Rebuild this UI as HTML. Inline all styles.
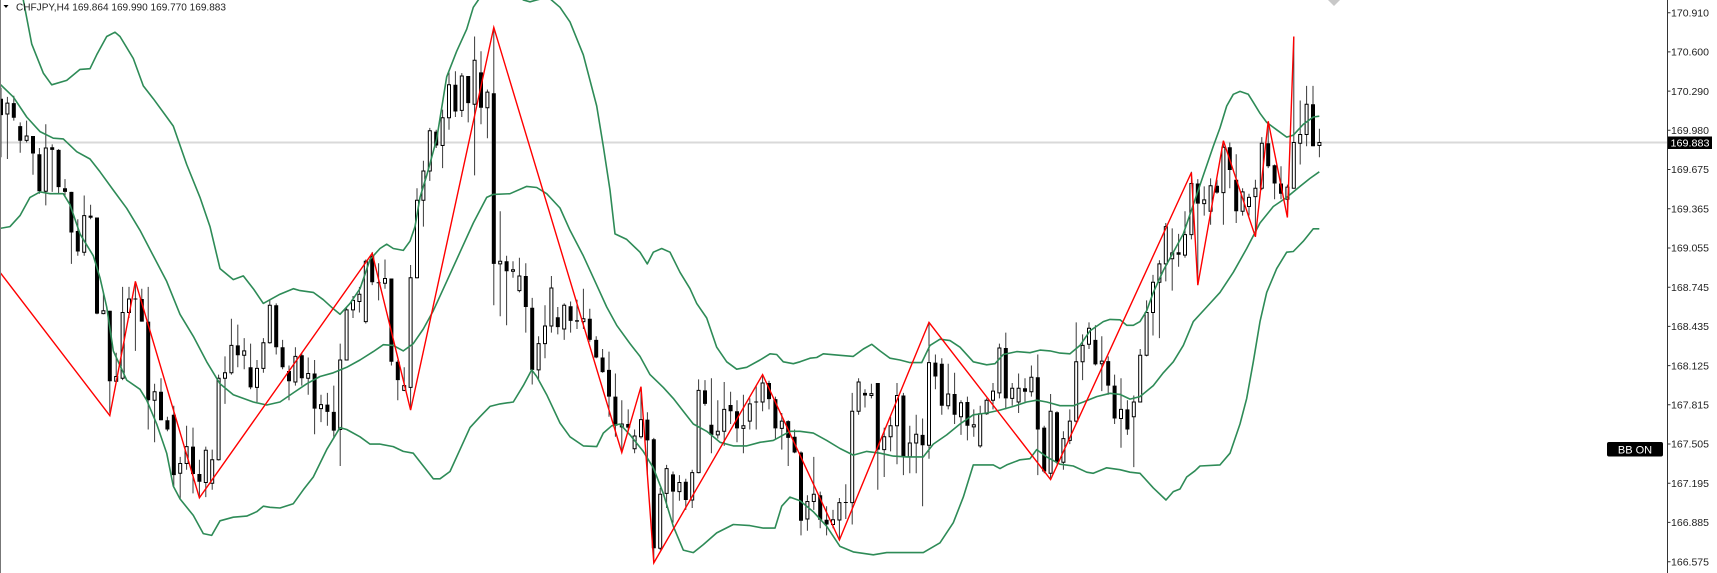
<!DOCTYPE html>
<html><head><meta charset="utf-8"><style>html,body{margin:0;padding:0;background:#fff;overflow:hidden}svg{display:block}</style></head>
<body>
<svg width="1717" height="573" viewBox="0 0 1717 573" xmlns="http://www.w3.org/2000/svg" font-family="'Liberation Sans', sans-serif">
<defs><clipPath id="c"><rect x="0" y="0" width="1667" height="573"/></clipPath></defs>
<rect width="1717" height="573" fill="#fff"/>
<g clip-path="url(#c)">
<line x1="0" y1="142.5" x2="1667" y2="142.5" stroke="#d9d9d9" stroke-width="2"/>
<path fill="none" stroke="#3a3a3a" stroke-width="1" d="M1 87.7V157.2M7.4 96.9V159M13.8 95.8V120.6M20.2 122.4V152.8M26.6 120.6V142.5M33 136V174.7M39.4 148V193.7M45.8 124.3V205.4M52.2 144.4V191.9M58.6 149.1V193.7M65 179.1V195.5M71.4 191.9V263.9M77.8 219.3V255.8M84.2 195.5V255.8M90.6 204.7V219.3M97 217.5V314.3M103.4 292.4V314.3M109.8 310.7V413M116.2 352.7V382M122.6 286.9V380.1M129 286.9V318M135.4 281.4V350.9M141.8 288.7V321.6M148.2 286.9V429.5M154.6 383.8V442.3M161 378.3V420.3M167.4 416.7V431.3M173.8 405.7V486.1M180.2 456.9V498.9M186.6 425.8V469.7M193 427.6V493.4M199.4 459.8V497.8M205.8 446.6V497.1M212.2 449.6V489.8M218.6 374.6V460.5M225 356.4V403.9M231.4 318.7V374.6M237.8 324.6V367.3M244.2 338.1V369.2M250.6 343.6V389.3M257 360V402M263.4 338.1V372.8M269.8 299.7V343.6M276.2 303.4V354.5M282.6 339.9V369.2M289 365.5V400.2M295.4 347.2V385.6M301.8 352.7V385.6M308.2 357.5V394.7M314.6 360V434.2M321 394.7V422.1M327.4 392.9V425.8M333.8 385.6V438.6M340.2 343.6V466M346.6 307V360M353 296V318M359.4 286.9V312.5M365.8 259.5V323.5M372.2 252.2V285.1M378.6 263.2V300.4M385 259.5V288.7M391.4 278.5V365.5M397.8 360V400.2M404.2 367.3V391.1M410.6 265V409.4M417 188.2V278.5M423.4 160.8V226.6M429.8 127.9V180.9M436.2 129.8V148M442.6 109.6V168.1M449 72.4V129.8M455.4 71.3V117M461.8 73.1V117M468.2 76V122.4M474.6 36.5V175.4M481 51.2V124.3M487.4 89.5V138.2M493.8 27.4V305.2M500.2 211.3V316.2M506.6 255.8V325.3M513 261.3V277.8M519.4 257.7V292.4M525.8 263.2V332.6M532.2 297.9V384.5M538.6 336.3V380.1M545 305.2V358.2M551.4 276V332.6M557.8 307V334.4M564.2 303.4V339.9M570.6 301.5V332.6M577 299.7V329M583.4 288.7V329M589.8 308.8V341.7M596.2 336.3V358.2M602.6 349V372.8M609 351.6V416.7M615.4 373.5V436.8M621.8 400.2V451.4M628.2 409.4V429.5M634.6 429.5V453.2M641 387.4V438.6M647.4 412.3V475.1M653.8 437.9V562.9M660.2 487.9V550.1M666.6 464.9V508M673 471.5V522.7M679.4 475.1V500.7M685.8 478.8V509.9M692.2 469.7V508M698.6 379.4V473.3M705 380.1V405.7M711.4 378.3V453.2M717.8 400.2V438.6M724.2 382V445.9M730.6 391.8V424M737 400.2V442.3M743.4 394.7V453.2M749.8 398.4V429.5M756.2 385.6V429.5M762.6 374.6V411.2M769 380.8V409.4M775.4 396.6V438.6M781.8 413V449.6M788.2 420.3V466M794.6 429.5V453.2M801 451.4V535.4M807.4 495.2V530.7M813.8 456.9V509.9M820.2 491.6V528.2M826.6 506.2V535.4M833 509.9V528.2M839.4 498V540M845.8 484.3V519M852.2 392.9V524.5M858.6 378.3V414.8M865 389.3V407.5M871.4 383.8V398.4M877.8 383V489.8M884.2 427.6V477M890.6 416.7V451.4M897 383V464.2M903.4 392.9V475.1M909.8 425.8V473.3M916.2 414.8V473.3M922.6 418.5V506.2M929 323.5V458.7M935.4 354.5V389.3M941.8 358.2V414.8M948.2 363.7V409.4M954.6 372.8V424M961 400.2V434.9M967.4 396.6V440.4M973.8 409.4V436.8M980.2 405.7V447.7M986.6 398.4V414.8M993 383V409.4M999.4 343.6V398.4M1005.8 332.6V409.4M1012.2 383V405.7M1018.6 373.5V413M1025 378.3V402M1031.4 365.5V396.6M1037.8 354.5V475.1M1044.2 425.8V473.3M1050.6 394V478.8M1057 411.2V464.2M1063.4 431.3V469.7M1069.8 409.4V444.1M1076.2 322.4V424M1082.6 334.4V380.1M1089 322.4V349M1095.4 325.3V365.5M1101.8 336.3V391.1M1108.2 356.4V394.7M1114.6 374.6V424M1121 378.3V447.7M1127.4 400.2V434.9M1133.8 395.5V467.1M1140.2 349V402M1146.6 300.4V356.4M1153 274.9V335.5M1159.4 260.2V338.1M1165.8 223V281.4M1172.2 228.4V290.6M1178.6 233.9V266.8M1185 211.3V257.7M1191.4 171.8V239.4M1197.8 179.1V285.1M1204.2 186.4V215.6M1210.6 178.4V224.8M1217 179.8V193.7M1223.4 140.7V224.8M1229.8 142.5V188.2M1236.2 154.2V223M1242.6 188.2V215.6M1249 193.7V215.6M1255.4 179.8V236.8M1261.8 137.1V190.1M1268.2 122.4V168.1M1274.6 164.5V199.2M1281 166.3V199.2M1287.4 184.6V217.5M1293.8 36.5V188.2M1300.2 100.5V164.5M1306.6 85.9V146.2M1313 85.9V146.2M1319.4 128.7V157.2"/>
<path fill="#000" d="M-1 98.7h4V115.1h-4ZM11.8 103.1h4V117.7h-4ZM18.2 126.1h4V140.7h-4ZM31 136h4V153.5h-4ZM37.4 154.2h4V191.2h-4ZM50.2 147.3h4V149.9h-4ZM56.6 149.9h4V187.1h-4ZM63 188.2h4V191.9h-4ZM69.4 191.9h4V232.5h-4ZM75.8 231h4V251.5h-4ZM88.6 215.6h4V217.8h-4ZM95 217.5h4V313.6h-4ZM107.8 310.7h4V381.2h-4ZM133.4 298.5h4V299.5h-4ZM139.8 299h4V321.6h-4ZM146.2 321.6h4V400.2h-4ZM159 391.8h4V420.3h-4ZM165.4 420.3h4V429.5h-4ZM171.8 414.8h4V475.1h-4ZM191 446.6h4V474h-4ZM197.4 474h4V481.7h-4ZM235.8 345.4h4V355.3h-4ZM248.6 367.3h4V387.4h-4ZM274.2 305.2h4V347.2h-4ZM280.6 347.2h4V367.3h-4ZM287 371h4V381.2h-4ZM299.8 355.3h4V378.3h-4ZM312.6 373.5h4V408.6h-4ZM325.4 404.6h4V411.9h-4ZM331.8 411.9h4V430.6h-4ZM370.2 255.8h4V282.2h-4ZM376.6 282.2h4V283.3h-4ZM389.4 278.5h4V361.8h-4ZM395.8 361.8h4V380.1h-4ZM434.2 131.6h4V145.5h-4ZM453.4 84.8h4V111.5h-4ZM466.2 76h4V103.1h-4ZM479 72.4h4V107.8h-4ZM491.8 93.2h4V263.9h-4ZM504.6 261.3h4V271.2h-4ZM523.8 276h4V307h-4ZM530.2 307.7h4V369.9h-4ZM555.8 317.3h4V327.1h-4ZM568.6 306.3h4V320.9h-4ZM575 320.2h4V321.6h-4ZM587.8 318.7h4V339.9h-4ZM594.2 339.9h4V357.5h-4ZM600.6 357.5h4V372.1h-4ZM607 369.9h4V396.6h-4ZM613.4 396.6h4V425.8h-4ZM626.2 424h4V427.6h-4ZM645.4 419.6h4V440.4h-4ZM651.8 439.3h4V548.2h-4ZM671 474.4h4V491.6h-4ZM683.8 481.7h4V500h-4ZM703 390.4h4V403.9h-4ZM709.4 424.7h4V434.9h-4ZM728.6 405h4V411.2h-4ZM735 411.2h4V428.4h-4ZM754.2 401.5h4V402.5h-4ZM767 383h4V399.1h-4ZM773.4 399.1h4V428.4h-4ZM786.2 421.1h4V437.9h-4ZM792.6 436.8h4V452.5h-4ZM799 452.5h4V520.8h-4ZM818.2 495.2h4V519.7h-4ZM824.6 519.7h4V524.5h-4ZM843.8 502h4V503h-4ZM863 392.9h4V395.5h-4ZM875.8 383h4V449.6h-4ZM901.4 395.5h4V456.9h-4ZM920.6 434.9h4V445.2h-4ZM933.4 362.6h4V376.5h-4ZM939.8 363.7h4V405.7h-4ZM952.6 394h4V414.8h-4ZM965.4 402h4V425.8h-4ZM1003.8 348h4V398.4h-4ZM1023 388.2h4V391.8h-4ZM1035.8 377.2h4V429.5h-4ZM1042.2 427.6h4V471.5h-4ZM1055 412.3h4V462.3h-4ZM1093.4 339.9h4V364.4h-4ZM1106.2 361.1h4V385.6h-4ZM1112.6 385.6h4V418.5h-4ZM1125.4 409.4h4V429.5h-4ZM1176.6 252.2h4V254.8h-4ZM1195.8 183.5h4V203.6h-4ZM1215 185.7h4V192.6h-4ZM1227.8 147.3h4V170h-4ZM1234.2 179.8h4V211.3h-4ZM1266.2 143.3h4V166.3h-4ZM1272.6 165.2h4V183.5h-4ZM1279 183.5h4V193.7h-4ZM1311 104.2h4V146.2h-4Z"/>
<path fill="#fff" stroke="#000" stroke-width="1" d="M5.9 103.1h3V114h-3ZM25.1 136h3V140.4h-3ZM44.3 148h3V191.2h-3ZM82.7 215.6h3V252.2h-3ZM101.9 310.7h3V313.6h-3ZM114.7 376.5h3V381.2h-3ZM121.1 312.5h3V378.3h-3ZM127.5 299h3V312.5h-3ZM153.1 391.8h3V400.2h-3ZM178.7 463.5h3V473.3h-3ZM185.1 446.6h3V463.5h-3ZM204.3 450.3h3V482.5h-3ZM210.7 459.8h3V483.2h-3ZM217.1 378.3h3V459.8h-3ZM223.5 372.8h3V378.3h-3ZM229.9 345.4h3V372.8h-3ZM242.7 350.9h3V355.3h-3ZM255.5 368.4h3V387.4h-3ZM261.9 342.8h3V368.4h-3ZM268.3 305.2h3V342.8h-3ZM293.9 356.4h3V382h-3ZM306.7 373.5h3V378.3h-3ZM319.5 404.6h3V408.6h-3ZM338.7 360h3V429.5h-3ZM345.1 309.9h3V360h-3ZM351.5 300.4h3V309.9h-3ZM357.9 294.2h3V301.5h-3ZM364.3 261.3h3V321.6h-3ZM383.5 278.5h3V283.3h-3ZM402.7 385.6h3V390.4h-3ZM409.1 277.8h3V387.4h-3ZM415.5 200.3h3V277.8h-3ZM421.9 171h3V200.3h-3ZM428.3 130.8h3V171h-3ZM441.1 117.7h3V145.5h-3ZM447.5 84.8h3V117.7h-3ZM460.3 76h3V110.4h-3ZM473.1 60.3h3V104.2h-3ZM485.9 92.1h3V107.8h-3ZM498.7 261.3h3V263.9h-3ZM511.5 269.7h3V271.2h-3ZM517.9 276h3V290.6h-3ZM537.1 343.6h3V369.9h-3ZM543.5 326h3V343.6h-3ZM549.9 288h3V326h-3ZM562.7 305.2h3V329h-3ZM581.9 318.7h3V321.6h-3ZM620.3 424h3V426.9h-3ZM633.1 436h3V448.8h-3ZM639.5 419.6h3V436.8h-3ZM658.7 494.2h3V548.2h-3ZM665.1 468.6h3V493.4h-3ZM677.9 482.5h3V491.6h-3ZM690.7 472.6h3V500h-3ZM697.1 390.4h3V472.6h-3ZM716.3 431.3h3V434.9h-3ZM722.7 409.4h3V431.3h-3ZM741.9 425.8h3V428.4h-3ZM748.3 403.9h3V421.1h-3ZM761.1 383h3V402h-3ZM780.3 421.1h3V428.4h-3ZM805.9 501.5h3V519h-3ZM812.3 494.2h3V501.5h-3ZM831.5 519.7h3V524.5h-3ZM837.9 502.6h3V520h-3ZM850.7 411.2h3V502.6h-3ZM857.1 382h3V411.2h-3ZM869.9 393.6h3V395.5h-3ZM882.7 436.8h3V449.6h-3ZM889.1 425.8h3V436.8h-3ZM895.5 395.5h3V425.8h-3ZM908.3 443h3V456.9h-3ZM914.7 434.2h3V443h-3ZM927.5 362.6h3V445.2h-3ZM946.7 394h3V405.7h-3ZM959.5 402.8h3V416.7h-3ZM972.3 424.7h3V426.9h-3ZM978.7 413.7h3V445.9h-3ZM985.1 400.2h3V413.7h-3ZM991.5 391.1h3V400.2h-3ZM997.9 348h3V392.9h-3ZM1010.7 388.2h3V398.4h-3ZM1017.1 388.2h3V402h-3ZM1029.9 377.2h3V391.8h-3ZM1049.1 411.2h3V473.3h-3ZM1061.9 438.6h3V462.3h-3ZM1068.3 421.1h3V440.4h-3ZM1074.7 361.8h3V421.1h-3ZM1081.1 345.4h3V361.8h-3ZM1087.5 328.2h3V344.3h-3ZM1100.3 361.1h3V363.7h-3ZM1119.5 409.4h3V418.5h-3ZM1132.3 402h3V416.7h-3ZM1138.7 355.3h3V402h-3ZM1145.1 312.5h3V355.3h-3ZM1151.5 282.2h3V312.5h-3ZM1157.9 263.9h3V282.2h-3ZM1164.3 226.6h3V263.9h-3ZM1170.7 252.9h3V258.8h-3ZM1183.5 234.6h3V255.1h-3ZM1189.9 183.5h3V234.6h-3ZM1202.7 199.9h3V203.6h-3ZM1209.1 185.7h3V211.3h-3ZM1221.9 147.3h3V192.6h-3ZM1241.1 191.9h3V211.3h-3ZM1247.5 197.4h3V206.5h-3ZM1253.9 188.2h3V196.6h-3ZM1260.3 143.3h3V188.2h-3ZM1285.9 187.1h3V199.2h-3ZM1292.3 142.5h3V188.2h-3ZM1298.7 134.5h3V143.3h-3ZM1305.1 104.2h3V134.5h-3ZM1317.9 142.5h3V145.5h-3Z"/>
<g fill="none" stroke="#2e8b57" stroke-width="1.6" stroke-linejoin="round">
<polyline points="20,-10 23.3,0 31.7,43.9 43.3,73.1 51.7,84.8 66.7,80.4 80,69.4 90,68.7 96.7,54.8 106.7,36.5 115,32.2 120,36.5 133.3,58.5 143.3,85.9 153.3,98.7 166.7,117 173.3,126.1 186.7,164.5 200,197.4 210,226.6 220,268.6 233.3,279.6 243.3,275.9 253.3,288.7 263.3,303.4 280,294.2 293.3,288.7 300,290.6 313.3,292.4 323.3,299.7 333.3,308.8 340,314.3 350,303.4 360,288.7 370,259.5 380,248.5 386.7,244.2 393.3,248.5 403.3,250.4 410,241.2 415,226.6 420,197.4 426.7,175.4 436.7,138.9 446.7,76.8 456.7,51.2 466.7,29.2 473.3,7.3 478.3,0 490,-15 510,-15 523.3,0 530,1.8 536.7,0 548,-3 560,7.3 570,21.9 583.3,54.8 596.7,106 603.3,146.2 610,190.1 615,233.9 626.7,239.4 640,252.2 647.3,263.9 653.3,252.2 661.7,248.5 670,252.2 680,272.3 690,288.7 696.7,303.4 706.7,318 716.7,347.2 726.7,361.8 736.7,369.2 746.7,367.3 760,360 770,353.8 776.7,354.5 783.3,361.8 793.3,363.7 800,361.8 810,358.2 816.7,357.5 823.3,353.8 840,355.3 853.3,356.4 863.3,349 871.7,344.3 880,350.9 890,358.2 900,360 910,362.6 921.7,362.6 930,345.4 940,339.2 950,340.6 960,347.2 973.3,361.8 986.7,364.8 995,363.7 1003.3,354.5 1016.7,351.6 1030,352.7 1040,350.1 1050,350.9 1060,353.1 1070,353.8 1080,345.4 1090,330.8 1103.3,321.6 1110,319.4 1120,319.8 1126.7,325.3 1133.3,325.3 1140,321.6 1146.7,310.7 1153.3,292.4 1163.3,270.5 1173.3,252.2 1183.3,233.9 1193.3,204.7 1203.3,175.4 1213.3,146.2 1220,127.9 1226.7,106 1233.3,94.3 1240,91.4 1248.3,94.3 1253.3,102.3 1260,113.3 1266.7,122.4 1276.7,129.8 1286.7,137.1 1293.3,135.2 1303.3,124.3 1313.3,117 1319.3,116.2"/>
<polyline points="0,84.1 13.3,96.9 26.7,117 40,131.6 53.3,138.2 63.3,138.9 76.7,151.7 90,159 100,171.8 113.3,190.1 126.7,208.3 140,230.3 153.3,255.8 166.7,281.4 180,314.3 193.3,336.3 206.7,361.8 220,383.8 233.3,394.7 253.3,402 266.7,405 280,402 293.3,392.9 306.7,383.8 320,376.5 333.3,372.8 346.7,367.3 360,360 373.3,351.6 383.3,344.7 393.3,345.4 403.3,350.9 413.3,343.6 423.3,329 433.3,310.7 446.7,281.4 460,252.2 473.3,223 486.7,197.4 493.3,194.4 510,193.7 526.7,186.4 536.7,187.5 546.7,193.7 560,208 570,230.3 583.3,255.8 596.7,285.1 606.7,307 616.7,325.3 630,343.6 640,356.4 650,374.6 663.3,387.4 673.3,398.4 683.3,411.2 693.3,424 706.7,431.3 720,442.3 733.3,445.9 746.7,445.9 760,442.3 773.3,440.4 780,436.8 790,431.3 800,431.3 813.3,433.1 826.7,440.4 840,448.5 853.3,455.1 866.7,451.4 880,453.2 893.3,456.1 906.7,456.9 923.3,456.9 933.3,444.1 946.7,434.9 960,424 973.3,414.8 986.7,413 1000,410.1 1013.3,406.4 1026.7,402 1036.7,400.2 1046.7,402 1060,405.7 1073.3,405.7 1083.3,402 1096.7,396.6 1110,393.3 1120,394.4 1130,399.1 1140,396.6 1153.3,385.6 1163.3,372.8 1173.3,361.8 1183.3,345.4 1193.3,321.6 1206.7,307 1220,292.4 1233.3,272.3 1246.7,248.5 1260,223 1273.3,206.5 1286.7,197.4 1300,186.4 1310,178.4 1319.3,171.8"/>
<polyline points="0,228.4 10,226.6 20,215.6 30,197.4 40,191.9 50,193.7 63.3,193.7 70,204.7 80,233.9 93.3,255.8 100,277.8 106.7,307 113.3,350.9 120,365.5 126.7,380.1 140,389.3 146.7,400.2 156.7,424 166.7,453.2 173.3,486.1 180,498.9 193.3,515.4 203.3,533.6 211.7,535.4 220,520.8 233.3,517.2 246.7,516.1 256.7,511.7 263.3,506.2 270,507.3 280,508 293.3,503.7 303.3,489.8 313.3,477 326.7,449.6 340,427.6 346.7,429.5 360,436.8 370,444.1 380,444.1 393.3,446.6 403.3,451.4 413.3,453.2 423.3,466 433.3,478.8 440,478.8 450,471.5 460,449.6 470,427.6 480,416.7 490,406.4 500,403.9 513.3,402 523.3,385.6 531.7,369.9 536.7,376.5 546.7,394.7 560,423 570,436.8 583.3,445.9 596.7,446.6 603.3,433.1 611.7,425.8 620,424 630,434.9 643.3,451.4 653.3,467.8 663.3,493.4 673.3,526.3 683.3,550.1 693.3,552.6 703.3,544.6 716.7,532.9 733.3,524.5 750,525.6 763.3,528.1 775,528.1 781.7,506.2 790,497.1 800,500.7 813.3,511.7 826.7,526.3 840,546.4 853.3,551.9 873.3,554.8 886.7,552.6 906.7,552.6 923.3,552.6 940,542.8 953.3,522.7 963.3,497.1 973.3,464.9 986.7,464.9 993.3,464.9 1000,468.6 1006.7,464.9 1020,459.8 1030,458.7 1036.7,449.6 1046.7,456.9 1060,464.2 1073.3,466 1086.7,472.2 1093.3,473.3 1106.7,467.8 1120,469.7 1130,472.2 1140,473.3 1153.3,487.9 1166,500 1173.3,491.6 1180,489 1186.7,477 1195,470.8 1200,466 1220,464.9 1230,453.2 1240,424 1246.7,398.4 1253.3,361.8 1260,321.6 1266.7,292.4 1276.7,268.6 1286.7,252.2 1293.3,251.5 1303.3,241.2 1313.3,228.8 1319.3,228.8"/>
</g>
<polyline fill="none" stroke="#ff0000" stroke-width="1.4" stroke-linejoin="miter" points="0,272.3 109.8,415.6 135.4,281.4 199.4,497.8 372.2,253.3 410.6,410.1 493.8,27.4 621.8,452.5 641,386.7 653.8,562.9 762.6,374.6 839.4,540 929,322.4 1050.6,479.5 1191.4,172.5 1197.8,285.1 1223.4,140.7 1255.4,236.8 1268.2,121.3 1287.4,217.5 1293.8,36.5"/>
</g>
<polygon points="1328,0 1334,6 1340,0" fill="#c8c8c8"/>
<line x1="0.5" y1="0" x2="0.5" y2="573" stroke="#777" stroke-width="1"/>
<line x1="1667.5" y1="0" x2="1667.5" y2="573" stroke="#333" stroke-width="1"/>
<path stroke="#333" stroke-width="1" d="M1668 12.7h2.5M1668 51.9h2.5M1668 91.1h2.5M1668 130.3h2.5M1668 169.5h2.5M1668 208.8h2.5M1668 248h2.5M1668 287.2h2.5M1668 326.4h2.5M1668 365.6h2.5M1668 404.8h2.5M1668 444h2.5M1668 483.2h2.5M1668 522.4h2.5M1668 561.7h2.5"/>
<g font-size="10.5" fill="#222">
<text x="1671" y="16.4" textLength="38" lengthAdjust="spacingAndGlyphs">170.910</text>
<text x="1671" y="55.6" textLength="38" lengthAdjust="spacingAndGlyphs">170.600</text>
<text x="1671" y="94.8" textLength="38" lengthAdjust="spacingAndGlyphs">170.290</text>
<text x="1671" y="134" textLength="38" lengthAdjust="spacingAndGlyphs">169.980</text>
<text x="1671" y="173.2" textLength="38" lengthAdjust="spacingAndGlyphs">169.675</text>
<text x="1671" y="212.5" textLength="38" lengthAdjust="spacingAndGlyphs">169.365</text>
<text x="1671" y="251.7" textLength="38" lengthAdjust="spacingAndGlyphs">169.055</text>
<text x="1671" y="290.9" textLength="38" lengthAdjust="spacingAndGlyphs">168.745</text>
<text x="1671" y="330.1" textLength="38" lengthAdjust="spacingAndGlyphs">168.435</text>
<text x="1671" y="369.3" textLength="38" lengthAdjust="spacingAndGlyphs">168.125</text>
<text x="1671" y="408.5" textLength="38" lengthAdjust="spacingAndGlyphs">167.815</text>
<text x="1671" y="447.7" textLength="38" lengthAdjust="spacingAndGlyphs">167.505</text>
<text x="1671" y="486.9" textLength="38" lengthAdjust="spacingAndGlyphs">167.195</text>
<text x="1671" y="526.1" textLength="38" lengthAdjust="spacingAndGlyphs">166.885</text>
<text x="1671" y="565.4" textLength="38" lengthAdjust="spacingAndGlyphs">166.575</text>
</g>
<rect x="1668" y="136.5" width="44" height="12.5" fill="#000"/>
<text x="1670.5" y="146.6" font-size="10.5" fill="#fff" textLength="39" lengthAdjust="spacingAndGlyphs">169.883</text>
<rect x="1607" y="442" width="56" height="14.5" rx="2" fill="#000"/>
<text x="1635" y="453.5" font-size="11" fill="#fff" text-anchor="middle">BB ON</text>
<polygon points="3.5,5 8.5,5 6,8" fill="#000"/>
<text x="16" y="10.3" font-size="10" fill="#222" textLength="210" lengthAdjust="spacingAndGlyphs">CHFJPY,H4  169.864 169.990 169.770 169.883</text>
</svg>
</body></html>
